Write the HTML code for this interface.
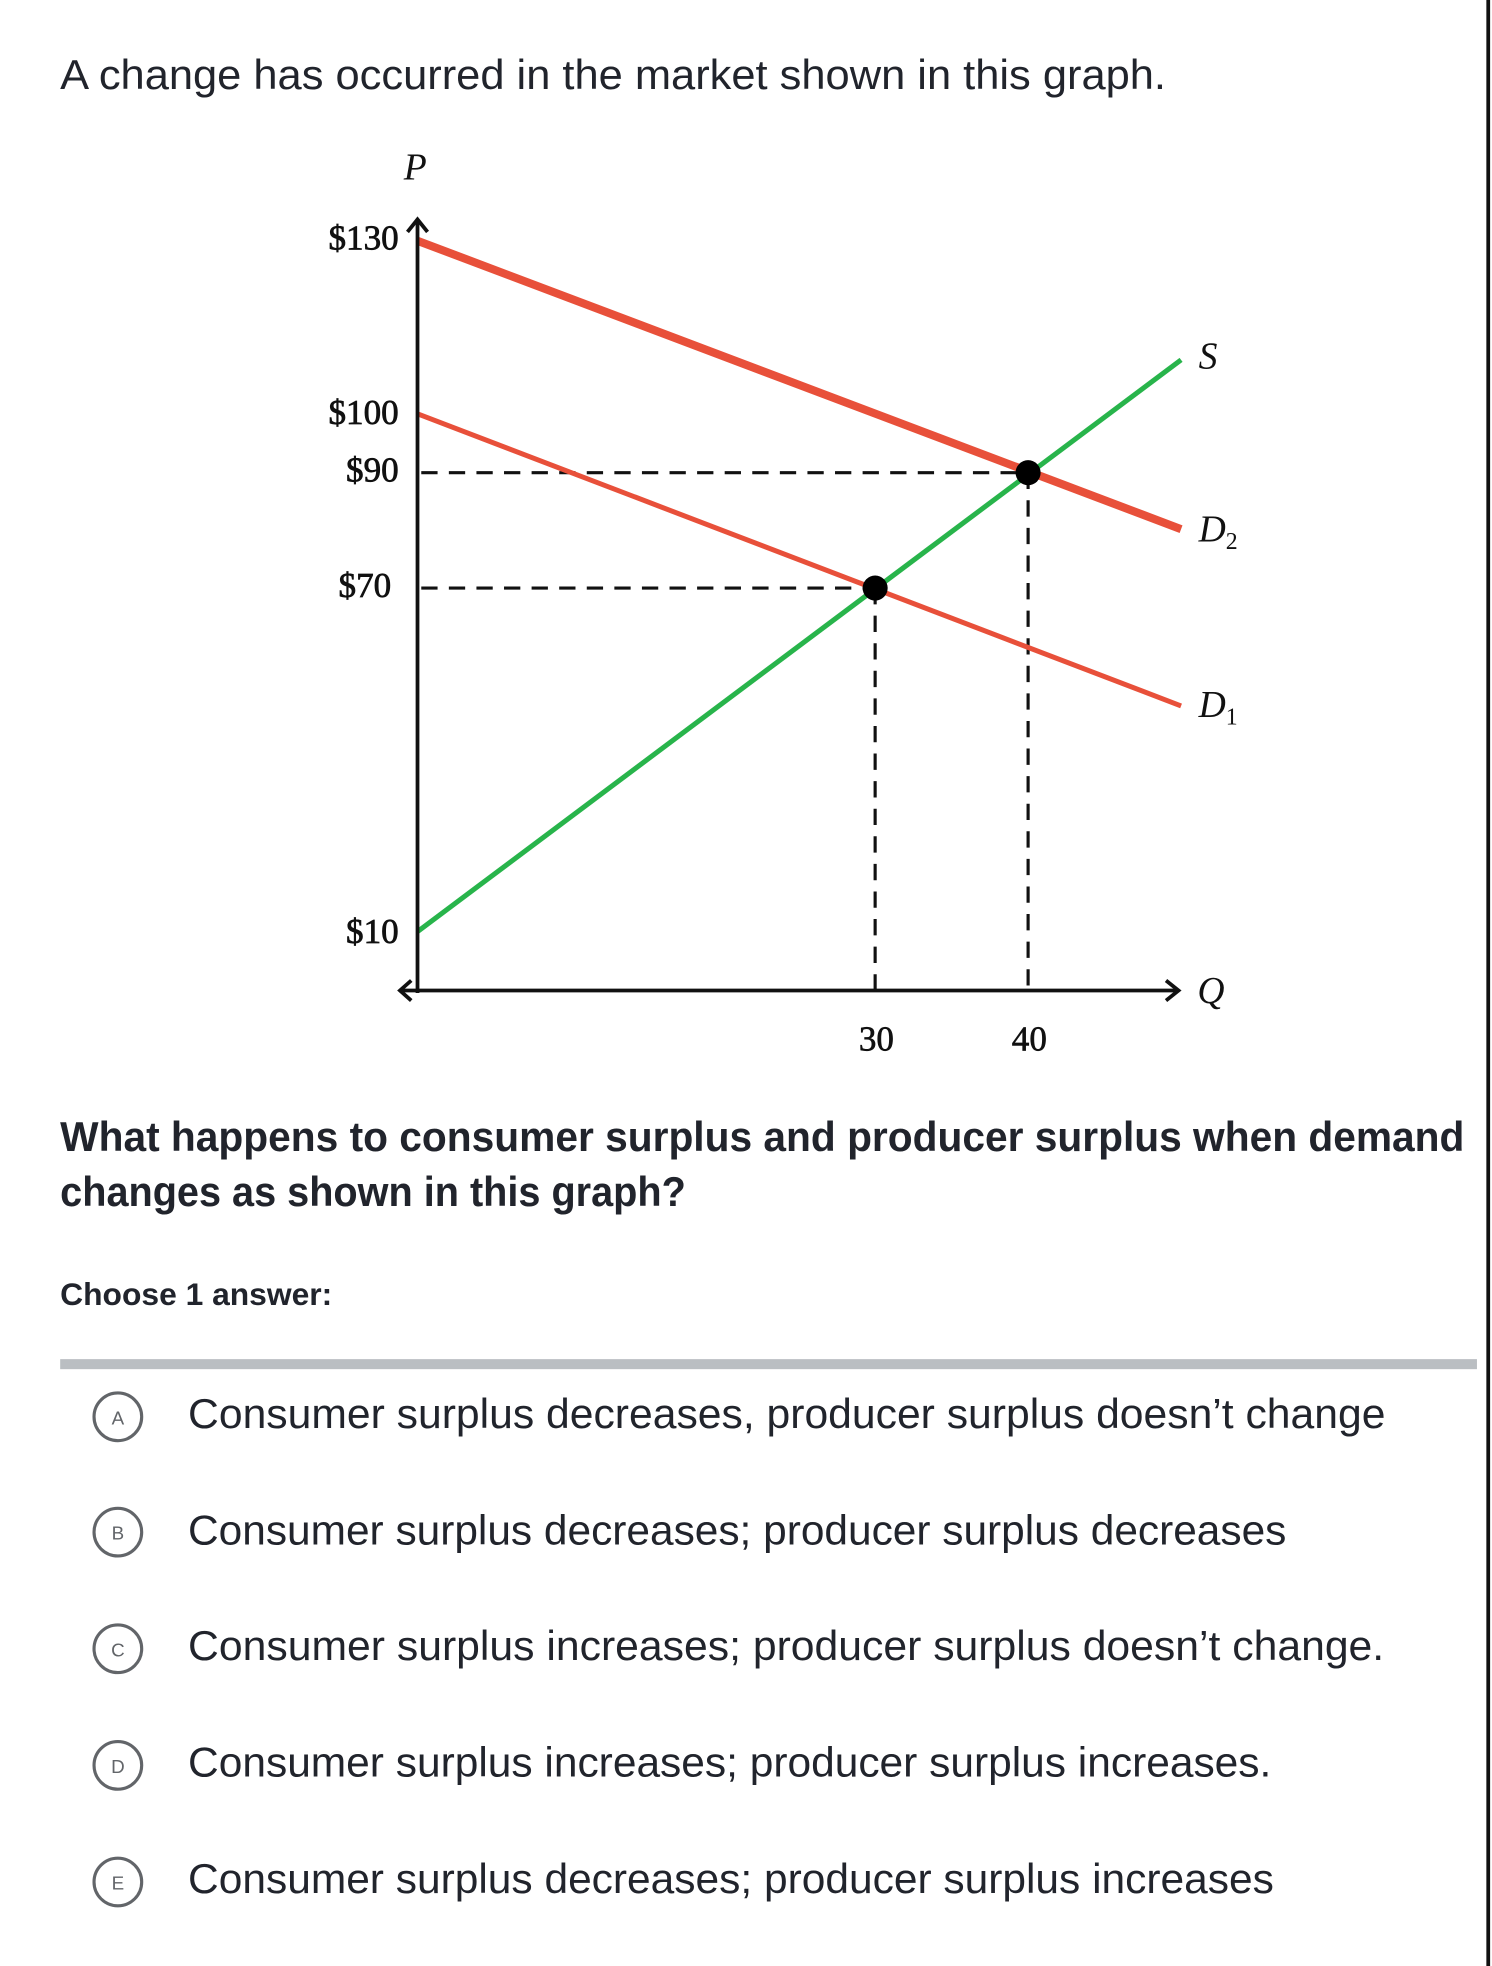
<!DOCTYPE html>
<html><head><meta charset="utf-8"><style>
html,body{margin:0;padding:0;background:#fff;width:1492px;height:1966px;overflow:hidden}
svg{display:block}
</style></head><body>
<svg width="1492" height="1966" viewBox="0 0 1190 1568" xmlns="http://www.w3.org/2000/svg">
<rect x="0" y="0" width="1190" height="1568" fill="#fff"/>
<line x1="1187" y1="0" x2="1187" y2="1568" stroke="#111" stroke-width="3"/>
<g font-family="Liberation Sans, sans-serif" fill="#21242c">
<text x="48" y="71" font-size="33" textLength="882" lengthAdjust="spacingAndGlyphs">A change has occurred in the market shown in this graph.</text>
<text x="48" y="918" font-size="33" font-weight="bold" textLength="1120" lengthAdjust="spacingAndGlyphs">What happens to consumer surplus and producer surplus when demand</text>
<text x="48" y="962" font-size="33" font-weight="bold" textLength="499" lengthAdjust="spacingAndGlyphs">changes as shown in this graph?</text>
<text x="48" y="1041" font-size="25" font-weight="bold" textLength="217" lengthAdjust="spacingAndGlyphs">Choose 1 answer:</text>
</g>
<rect x="48" y="1084" width="1130" height="8" fill="#babec2"/>
<g font-family="Liberation Sans, sans-serif" font-size="33" fill="#21242c">
<text x="150" y="1139" textLength="955" lengthAdjust="spacingAndGlyphs">Consumer surplus decreases, producer surplus doesn’t change</text>
<text x="150" y="1232" textLength="876" lengthAdjust="spacingAndGlyphs">Consumer surplus decreases; producer surplus decreases</text>
<text x="150" y="1324" textLength="954" lengthAdjust="spacingAndGlyphs">Consumer surplus increases; producer surplus doesn’t change.</text>
<text x="150" y="1417" textLength="864" lengthAdjust="spacingAndGlyphs">Consumer surplus increases; producer surplus increases.</text>
<text x="150" y="1510" textLength="866" lengthAdjust="spacingAndGlyphs">Consumer surplus decreases; producer surplus increases</text>
</g>
<g fill="none" stroke="#626569" stroke-width="2.5">
<circle cx="94" cy="1130" r="19"/><circle cx="94" cy="1222" r="19"/><circle cx="94" cy="1315" r="19"/><circle cx="94" cy="1408" r="19"/><circle cx="94" cy="1501" r="19"/>
</g>
<g font-family="Liberation Sans, sans-serif" font-size="15" fill="#626569" text-anchor="middle">
<text x="94" y="1136">A</text><text x="94" y="1228">B</text><text x="94" y="1321">C</text><text x="94" y="1414">D</text><text x="94" y="1507">E</text>
</g>
<g stroke="#111" stroke-width="2.5" stroke-dasharray="13,9">
<line x1="336" y1="377" x2="820" y2="377"/>
<line x1="336" y1="469" x2="698" y2="469"/>
<line x1="698" y1="469" x2="698" y2="790"/>
<line x1="820" y1="377" x2="820" y2="790"/>
</g>
<line x1="333" y1="743" x2="942" y2="287" stroke="#28b44b" stroke-width="4"/>
<line x1="333" y1="330" x2="942" y2="563" stroke="#e8503a" stroke-width="4"/>
<line x1="333" y1="192" x2="942" y2="422" stroke="#e8503a" stroke-width="6.5"/>
<g stroke="#111" stroke-width="3" fill="none">
<line x1="333" y1="176" x2="333" y2="792"/>
<line x1="320" y1="790" x2="938" y2="790"/>
<path d="M325 185 L333 175 L341 185"/>
<path d="M930 782 L940 790 L930 798"/>
<path d="M328 782 L319 790 L328 798"/>
</g>
<circle cx="698" cy="469" r="10" fill="#000"/>
<circle cx="820" cy="377" r="10" fill="#000"/>
<g font-family="Liberation Serif, serif" font-size="28" fill="#111" stroke="#111" stroke-width="0.6" text-anchor="end">
<text x="318" y="199">$130</text>
<text x="318" y="338">$100</text>
<text x="318" y="384">$90</text>
<text x="312" y="476">$70</text>
<text x="318" y="752">$10</text>
</g>
<g font-family="Liberation Serif, serif" font-size="28" fill="#111" stroke="#111" stroke-width="0.5" text-anchor="middle">
<text x="699" y="838">30</text>
<text x="821" y="838">40</text>
</g>
<g font-family="Liberation Serif, serif" font-size="30" font-style="italic" fill="#111">
<text x="322" y="143">P</text>
<text x="956" y="294">S</text>
<text x="956" y="432">D<tspan font-size="19" dy="6" font-style="normal">2</tspan></text>
<text x="956" y="572">D<tspan font-size="19" dy="6" font-style="normal">1</tspan></text>
<text x="955" y="800">Q</text>
</g>
</svg>
</body></html>
